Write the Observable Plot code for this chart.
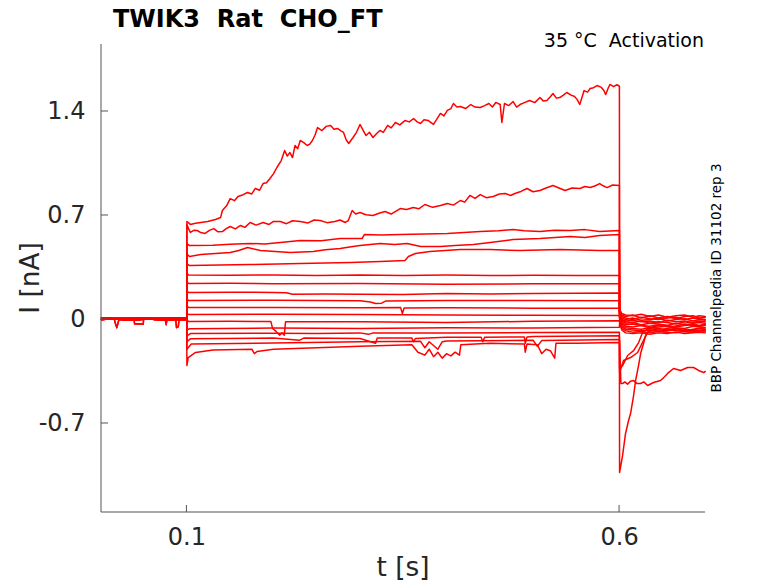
<!DOCTYPE html>
<html><head><meta charset="utf-8">
<script src="https://cdn.jsdelivr.net/npm/d3@7"></script>
<script src="https://cdn.jsdelivr.net/npm/@observablehq/plot@0.6"></script>
<style>
html,body{margin:0;padding:0;background:#fff;}
#chart{width:778px;height:583px;}
</style></head><body><div id="chart"></div>
<script>
// ---- axes ----
const xTicks = [0.1, 0.6];
const yTicks = [-0.7, 0, 0.7, 1.4];
const xDomain = [0.0013, 0.6993];
const yDomain = [-1.299, 1.851];

// ---- texts ----
const titleText = "TWIK3  Rat  CHO_FT";
const conditionText = "35 °C  Activation";
const sideText = "BBP Channelpedia ID 31102 rep 3";
const xLabel = "t [s]";
const yLabel = "I [nA]";

// ---- pre-pulse baselines [t (s), I (nA)] ----
const baseA = [[0.0013,0.005],[0.008,0.004],[0.016,0.005],[0.017,-0.02],[0.019,-0.055],[0.021,-0.01],[0.022,0.005],[0.03,0.003],[0.039,0.004],[0.0395,-0.03],[0.045,-0.028],[0.0495,-0.032],[0.05,0.003],[0.062,0.005],[0.075,0.004],[0.076,-0.035],[0.077,0.0],[0.087,0.003],[0.088,-0.055],[0.09,-0.05],[0.091,0.0],[0.0998,0.005]];
const baseB = [[0.0013,0.0],[0.01,0.003],[0.02,0.002],[0.03,-0.002],[0.04,-0.002],[0.05,0.001],[0.06,0.001],[0.07,-0.001],[0.08,-0.002],[0.09,0.001],[0.0998,0.0]];
const baseC = [[0.0013,0.01],[0.015,0.008],[0.03,0.008],[0.05,0.01],[0.07,0.008],[0.085,0.011],[0.0998,0.01]];

// ---- pulse segments (0.1 – 0.6 s) ----
const pulseA = [[0.1,0.66],[0.104,0.64],[0.11,0.648],[0.116,0.653],[0.124,0.66],[0.133,0.673],[0.139,0.687],[0.141,0.734],[0.146,0.767],[0.15,0.814],[0.155,0.8],[0.159,0.828],[0.165,0.84],[0.17,0.855],[0.175,0.845],[0.179,0.882],[0.184,0.87],[0.188,0.915],[0.192,0.92],[0.196,0.949],[0.2,0.98],[0.204,1.023],[0.209,1.07],[0.213,1.137],[0.216,1.1],[0.219,1.124],[0.222,1.09],[0.225,1.171],[0.228,1.15],[0.231,1.205],[0.235,1.19],[0.239,1.171],[0.242,1.18],[0.245,1.205],[0.248,1.24],[0.251,1.292],[0.256,1.272],[0.261,1.3],[0.266,1.306],[0.27,1.28],[0.274,1.286],[0.278,1.27],[0.281,1.259],[0.284,1.21],[0.287,1.185],[0.292,1.225],[0.296,1.26],[0.3,1.313],[0.304,1.27],[0.307,1.238],[0.311,1.26],[0.315,1.225],[0.319,1.25],[0.323,1.272],[0.327,1.26],[0.332,1.306],[0.336,1.29],[0.341,1.326],[0.346,1.31],[0.352,1.339],[0.357,1.33],[0.362,1.353],[0.366,1.33],[0.37,1.319],[0.374,1.345],[0.379,1.339],[0.385,1.313],[0.389,1.35],[0.393,1.387],[0.397,1.37],[0.401,1.407],[0.405,1.42],[0.408,1.454],[0.412,1.43],[0.416,1.434],[0.422,1.42],[0.428,1.447],[0.433,1.43],[0.439,1.427],[0.444,1.44],[0.449,1.454],[0.453,1.43],[0.457,1.461],[0.462,1.447],[0.464,1.326],[0.467,1.454],[0.472,1.44],[0.477,1.467],[0.481,1.43],[0.485,1.447],[0.49,1.46],[0.496,1.474],[0.502,1.46],[0.508,1.494],[0.512,1.47],[0.516,1.474],[0.52,1.5],[0.523,1.521],[0.527,1.49],[0.531,1.494],[0.535,1.51],[0.539,1.528],[0.544,1.51],[0.548,1.501],[0.551,1.48],[0.554,1.447],[0.559,1.541],[0.563,1.53],[0.566,1.555],[0.57,1.56],[0.574,1.575],[0.579,1.562],[0.582,1.54],[0.584,1.514],[0.587,1.56],[0.589,1.582],[0.593,1.568],[0.597,1.58],[0.5998,1.57]];
const pulseB = [[0.1,0.639],[0.102,0.61],[0.104,0.586],[0.108,0.6],[0.112,0.599],[0.116,0.585],[0.121,0.579],[0.126,0.6],[0.131,0.612],[0.136,0.59],[0.141,0.592],[0.145,0.61],[0.15,0.626],[0.156,0.61],[0.162,0.633],[0.167,0.62],[0.173,0.653],[0.18,0.635],[0.188,0.653],[0.195,0.64],[0.2,0.66],[0.208,0.66],[0.215,0.645],[0.222,0.665],[0.231,0.66],[0.24,0.65],[0.247,0.67],[0.254,0.666],[0.262,0.652],[0.271,0.66],[0.277,0.67],[0.283,0.653],[0.2865,0.666],[0.291,0.734],[0.295,0.71],[0.3,0.72],[0.307,0.705],[0.315,0.7],[0.322,0.715],[0.329,0.727],[0.336,0.71],[0.3465,0.747],[0.354,0.74],[0.3615,0.754],[0.368,0.745],[0.375,0.774],[0.384,0.755],[0.393,0.767],[0.401,0.781],[0.408,0.77],[0.416,0.801],[0.421,0.79],[0.427,0.835],[0.433,0.815],[0.439,0.841],[0.446,0.82],[0.454,0.828],[0.461,0.845],[0.468,0.848],[0.474,0.835],[0.479,0.848],[0.486,0.862],[0.493,0.882],[0.5,0.86],[0.508,0.868],[0.515,0.885],[0.523,0.902],[0.53,0.885],[0.537,0.868],[0.545,0.885],[0.554,0.882],[0.56,0.895],[0.566,0.888],[0.572,0.9],[0.577,0.915],[0.581,0.9],[0.5855,0.888],[0.592,0.905],[0.5998,0.902]];
const pulseC = [[0.1,0.51],[0.103,0.498],[0.13,0.5],[0.15,0.506],[0.173,0.512],[0.19,0.508],[0.208,0.518],[0.231,0.532],[0.255,0.53],[0.277,0.545],[0.3025,0.545],[0.305,0.572],[0.325,0.568],[0.3465,0.572],[0.375,0.575],[0.401,0.579],[0.42,0.585],[0.439,0.592],[0.46,0.598],[0.477,0.606],[0.49,0.598],[0.508,0.592],[0.525,0.6],[0.543,0.599],[0.56,0.605],[0.577,0.592],[0.5998,0.599]];
const pulseD = [[0.1,0.44],[0.103,0.424],[0.116,0.437],[0.15,0.451],[0.16,0.465],[0.17,0.485],[0.185,0.464],[0.2195,0.451],[0.246,0.458],[0.26,0.47],[0.277,0.478],[0.29,0.49],[0.3,0.498],[0.3235,0.512],[0.34,0.505],[0.3545,0.512],[0.37,0.491],[0.393,0.491],[0.41,0.498],[0.431,0.505],[0.4505,0.518],[0.477,0.538],[0.508,0.545],[0.543,0.559],[0.56,0.552],[0.577,0.565],[0.5998,0.572]];
const pulseE = [[0.1,0.375],[0.103,0.363],[0.173,0.37],[0.231,0.377],[0.289,0.384],[0.3235,0.39],[0.352,0.397],[0.356,0.424],[0.364,0.444],[0.381,0.458],[0.416,0.471],[0.4505,0.471],[0.485,0.464],[0.531,0.471],[0.577,0.464],[0.5998,0.464]];
const pulseF = [[0.1,0.31],[0.102,0.3],[0.15,0.298],[0.2,0.3],[0.25,0.296],[0.3,0.3],[0.35,0.297],[0.4,0.299],[0.45,0.296],[0.5,0.298],[0.55,0.296],[0.5998,0.297]];
const pulseG = [[0.1,0.25],[0.102,0.243],[0.15,0.244],[0.2,0.24],[0.3,0.242],[0.4,0.238],[0.5,0.24],[0.5998,0.24]];
const pulseH = [[0.1,0.19],[0.102,0.182],[0.15,0.184],[0.2,0.182],[0.215,0.18],[0.222,0.17],[0.26,0.172],[0.3,0.17],[0.35,0.168],[0.4,0.175],[0.45,0.172],[0.5,0.175],[0.5998,0.178]];
const pulseI = [[0.1,0.135],[0.102,0.128],[0.2,0.13],[0.3,0.126],[0.312,0.118],[0.318,0.108],[0.325,0.11],[0.33,0.125],[0.4,0.128],[0.5,0.128],[0.5998,0.127]];
const pulseJ = [[0.1,0.088],[0.102,0.081],[0.2,0.08],[0.3,0.079],[0.347,0.08],[0.349,0.04],[0.351,0.078],[0.4,0.079],[0.5,0.076],[0.5998,0.075]];
const pulseK = [[0.1,0.04],[0.102,0.034],[0.2,0.036],[0.3,0.034],[0.4,0.03],[0.5,0.028],[0.5998,0.027]];
const pulseL = [[0.1,-0.005],[0.102,-0.013],[0.15,-0.012],[0.197,-0.013],[0.199,-0.06],[0.203,-0.08],[0.207,-0.105],[0.21,-0.09],[0.2125,-0.105],[0.214,-0.015],[0.3,-0.015],[0.4,-0.02],[0.5,-0.012],[0.5998,-0.008]];
const pulseM = [[0.1,-0.07],[0.103,-0.062],[0.2,-0.058],[0.3,-0.06],[0.4,-0.055],[0.5,-0.057],[0.5998,-0.052]];
const pulseN = [[0.1,-0.11],[0.104,-0.095],[0.2,-0.092],[0.25,-0.094],[0.3,-0.09],[0.31,-0.1],[0.315,-0.09],[0.4,-0.09],[0.5,-0.088],[0.5998,-0.085]];
const pulseO = [[0.1,-0.15],[0.104,-0.13],[0.2,-0.125],[0.23,-0.14],[0.235,-0.125],[0.3,-0.128],[0.318,-0.16],[0.32,-0.125],[0.36,-0.125],[0.362,-0.15],[0.364,-0.128],[0.4,-0.12],[0.44,-0.12],[0.442,-0.15],[0.444,-0.12],[0.49,-0.117],[0.491,-0.16],[0.493,-0.117],[0.5,-0.115],[0.5998,-0.11]];
const pulseP = [[0.1,-0.2],[0.105,-0.165],[0.2,-0.158],[0.3,-0.15],[0.37,-0.147],[0.375,-0.19],[0.38,-0.15],[0.39,-0.2],[0.395,-0.15],[0.4,-0.145],[0.5,-0.14],[0.505,-0.18],[0.51,-0.142],[0.5998,-0.135]];
const pulseQ = [[0.1,-0.31],[0.1015,-0.256],[0.11,-0.222],[0.13,-0.205],[0.175,-0.2],[0.178,-0.23],[0.181,-0.215],[0.2,-0.2],[0.3,-0.18],[0.36,-0.17],[0.367,-0.22],[0.375,-0.24],[0.38,-0.2],[0.385,-0.25],[0.39,-0.22],[0.395,-0.26],[0.4,-0.23],[0.405,-0.245],[0.41,-0.22],[0.415,-0.24],[0.4165,-0.17],[0.45,-0.16],[0.49,-0.165],[0.491,-0.22],[0.493,-0.165],[0.505,-0.17],[0.51,-0.23],[0.515,-0.2],[0.52,-0.21],[0.525,-0.26],[0.5265,-0.16],[0.55,-0.16],[0.5998,-0.155]];

// ---- tail segments (0.6 – 0.7 s) ----
const tailT = [0.6,0.6025,0.607,0.615,0.625,0.635,0.645,0.655,0.665,0.675,0.685,0.692,0.699];
const tailA = [0.07,0.04,0.03,0.025,0.035,0.02,0.03,0.015,0.025,0.03,0.015,0.025,0.02];
const tailB = [0.06,0.03,0.02,0.03,0.01,0.025,0.01,0.02,0.005,0.02,0.025,0.01,0.015];
const tailC = [0.05,0.02,0.01,0.0,0.015,0.005,0.0,0.01,0.015,0.0,0.01,0.005,0.0];
const tailD = [0.045,0.01,0.0,0.01,-0.005,0.0,0.01,-0.01,0.0,0.005,-0.01,0.0,-0.005];
const tailE = [0.04,0.0,-0.01,-0.005,-0.015,-0.01,-0.02,-0.005,-0.015,-0.01,-0.02,-0.01,-0.015];
const tailF = [0.035,-0.005,-0.015,-0.02,-0.01,-0.025,-0.015,-0.02,-0.03,-0.015,-0.025,-0.02,-0.025];
const tailG = [0.03,-0.01,-0.025,-0.02,-0.035,-0.025,-0.03,-0.04,-0.025,-0.035,-0.03,-0.04,-0.03];
const tailH = [0.025,-0.02,-0.035,-0.03,-0.04,-0.045,-0.035,-0.04,-0.05,-0.04,-0.035,-0.045,-0.04];
const tailI = [0.02,-0.03,-0.045,-0.05,-0.04,-0.055,-0.05,-0.045,-0.055,-0.06,-0.045,-0.05,-0.055];
const tailJ = [0.01,-0.04,-0.055,-0.06,-0.065,-0.055,-0.06,-0.07,-0.06,-0.065,-0.07,-0.06,-0.065];
const tailK = [0.0,-0.05,-0.065,-0.07,-0.075,-0.07,-0.08,-0.07,-0.075,-0.08,-0.07,-0.075,-0.07];
const tailL = [-0.01,-0.06,-0.075,-0.085,-0.08,-0.09,-0.08,-0.085,-0.09,-0.08,-0.085,-0.075,-0.08];
const tailM = [-0.02,-0.07,-0.09,-0.095,-0.09,-0.1,-0.09,-0.095,-0.085,-0.095,-0.09,-0.085,-0.09];
const tailN = [[0.6,-0.357],[0.6046,-0.276],[0.6127,-0.256],[0.6208,-0.222],[0.6277,-0.141],[0.6324,-0.088],[0.6382,-0.074],[0.65,-0.08],[0.665,-0.065],[0.68,-0.085],[0.699,-0.07]];
const tailO = [[0.6,-0.33],[0.6035,-0.31],[0.6093,-0.242],[0.6162,-0.209],[0.622,-0.155],[0.6266,-0.088],[0.6335,-0.061],[0.645,-0.07],[0.66,-0.055],[0.675,-0.075],[0.69,-0.06],[0.699,-0.065]];
const tailP = [[0.6,-0.14],[0.6015,-0.43],[0.6035,-0.431],[0.606,-0.42],[0.6093,-0.435],[0.6125,-0.415],[0.6162,-0.411],[0.62,-0.43],[0.6243,-0.431],[0.628,-0.42],[0.6324,-0.444],[0.6393,-0.424],[0.6474,-0.411],[0.652,-0.385],[0.6555,-0.363],[0.6624,-0.33],[0.6705,-0.343],[0.6786,-0.323],[0.6855,-0.323],[0.6913,-0.343],[0.6971,-0.357],[0.699,-0.35]];
const tailQ = [[0.6,-1.03],[0.6035,-0.915],[0.6069,-0.767],[0.6104,-0.68],[0.6127,-0.633],[0.6162,-0.512],[0.6185,-0.411],[0.6219,-0.31],[0.6243,-0.229],[0.6277,-0.162],[0.63,-0.108],[0.6358,-0.054],[0.645,-0.04],[0.66,-0.05],[0.675,-0.03],[0.69,-0.045],[0.699,-0.035]];

const traces = [
  ["A", baseB, pulseA, tailA], ["B", baseC, pulseB, tailB], ["C", baseB, pulseC, tailC],
  ["D", baseC, pulseD, tailD], ["E", baseB, pulseE, tailE], ["F", baseB, pulseF, tailF],
  ["G", baseC, pulseG, tailG], ["H", baseB, pulseH, tailH], ["I", baseB, pulseI, tailI],
  ["J", baseC, pulseJ, tailJ], ["K", baseB, pulseK, tailK], ["L", baseA, pulseL, tailL],
  ["M", baseB, pulseM, tailM], ["N", baseC, pulseN, tailN], ["O", baseB, pulseO, tailO],
  ["P", baseB, pulseP, tailP], ["Q", baseA, pulseQ, tailQ]
];

const rows = [];
for (const [name, base, pulse, tail] of traces) {
  for (const [t, I] of base) rows.push({trace: name, t, I});
  for (const [t, I] of pulse) rows.push({trace: name, t, I});
  if (Array.isArray(tail[0])) for (const [t, I] of tail) rows.push({trace: name, t, I});
  else tail.forEach((I, i) => rows.push({trace: name, t: tailT[i], I}));
}

const font = "DejaVu Sans";
const chart = Plot.plot({
  width: 778, height: 583,
  marginLeft: 101, marginRight: 73, marginTop: 44, marginBottom: 71,
  style: {fontFamily: font, background: "#fff", color: "#262626", overflow: "visible"},
  x: {domain: xDomain},
  y: {domain: yDomain},
  marks: [
    Plot.line(rows, {x: "t", y: "I", z: "trace", stroke: "#ff0000", strokeWidth: 1.5, curve: "linear"}),
    Plot.axisX({ticks: xTicks, tickSize: 0, tickPadding: 15, fontSize: 24, label: null, tickFormat: d => String(d)}),
    Plot.axisY({ticks: yTicks, tickSize: 0, tickPadding: 16, fontSize: 24, label: null, tickFormat: d => String(d)})
  ]
});
document.getElementById("chart").appendChild(chart);

// decorations using the plot's scales
const sx = chart.scale("x"), sy = chart.scale("y");
const svg = d3.select(chart);
const x0 = sx.apply(xDomain[0]), x1 = sx.apply(xDomain[1]);
const y0 = sy.apply(yDomain[0]), y1 = sy.apply(yDomain[1]);
const axisColor = "#555";
svg.append("line").attr("x1", x0).attr("x2", x0).attr("y1", y0).attr("y2", y1).attr("stroke", axisColor).attr("stroke-width", 1);
svg.append("line").attr("x1", x0).attr("x2", x1).attr("y1", y0).attr("y2", y0).attr("stroke", axisColor).attr("stroke-width", 1);
for (const v of xTicks) svg.append("line").attr("x1", sx.apply(v)).attr("x2", sx.apply(v)).attr("y1", y0).attr("y2", y0 - 7).attr("stroke", axisColor);
for (const v of yTicks) svg.append("line").attr("x1", x0).attr("x2", x0 + 7).attr("y1", sy.apply(v)).attr("y2", sy.apply(v)).attr("stroke", axisColor);

function txt(s, x, y, size, opts = {}) {
  const t = svg.append("text").text(s).attr("x", x).attr("y", y)
    .attr("font-family", font).attr("font-size", size).attr("fill", opts.fill || "#262626")
    .attr("text-anchor", opts.anchor || "start").style("white-space", "pre");
  if (opts.bold) t.attr("font-weight", "bold");
  if (opts.rotate) t.attr("transform", `rotate(-90 ${x} ${y})`);
  return t;
}
txt(titleText, 113, 27, 24, {bold: true, fill: "#000"});
txt(conditionText, 704, 47, 19, {anchor: "end", fill: "#000"});
txt(xLabel, (x0 + x1) / 2, 576, 26.4, {anchor: "middle"});
txt(yLabel, 39, (y0 + y1) / 2, 26.4, {anchor: "middle", rotate: true});
txt(sideText, 721, (y0 + y1) / 2, 13.5, {anchor: "middle", rotate: true, fill: "#000"});
</script>
</body></html>
